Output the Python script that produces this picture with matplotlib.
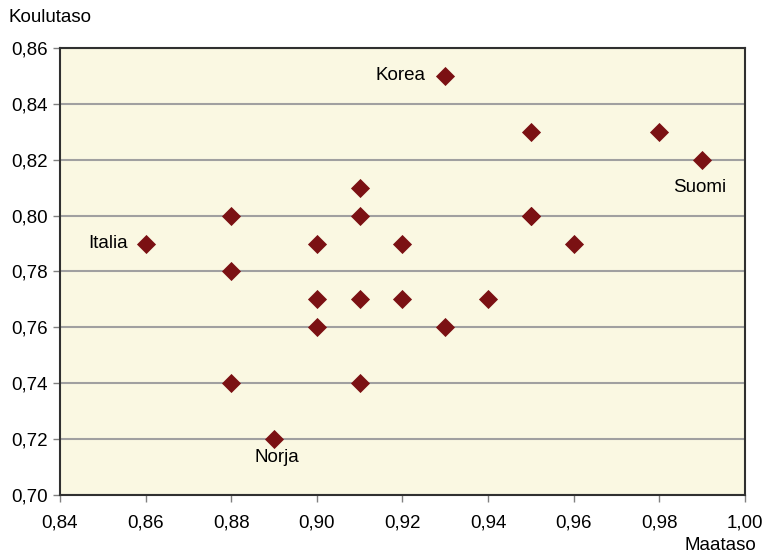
import matplotlib.pyplot as plt
from matplotlib.ticker import FuncFormatter

# maataso (x) ja koulutaso (y) maittain
maataso = [0.93, 0.95, 0.98, 0.99, 0.91, 0.88, 0.91, 0.95, 0.95, 0.86, 0.90,
           0.92, 0.96, 0.88, 0.90, 0.91, 0.92, 0.94, 0.90, 0.93, 0.88, 0.91, 0.89]
koulutaso = [0.85, 0.83, 0.83, 0.82, 0.81, 0.80, 0.80, 0.80, 0.80, 0.79, 0.79,
             0.79, 0.79, 0.78, 0.77, 0.77, 0.77, 0.77, 0.76, 0.76, 0.74, 0.74, 0.72]

# nimetyt maat: nimi, x, y
nimet = ["Korea", "Suomi", "Italia", "Norja"]
nimi_x = [0.93, 0.99, 0.86, 0.89]
nimi_y = [0.85, 0.82, 0.79, 0.72]

x_ticks = [0.84, 0.86, 0.88, 0.90, 0.92, 0.94, 0.96, 0.98, 1.00]
y_ticks = [0.70, 0.72, 0.74, 0.76, 0.78, 0.80, 0.82, 0.84, 0.86]

plt.rcParams['font.family'] = ['Liberation Sans', 'DejaVu Sans']

fig = plt.figure(figsize=(7.64, 5.56), dpi=100)
ax = fig.add_axes([0.0785, 0.1097, 0.8965, 0.804])
ax.set_facecolor('#FAF8E2')

ax.scatter(maataso, koulutaso, marker='D', s=95, color='#7B1113', zorder=3, linewidths=0)

ax.set_xlim(0.84, 1.00)
ax.set_ylim(0.70, 0.86)
ax.set_xticks(x_ticks)
ax.set_yticks(y_ticks)
fmt = FuncFormatter(lambda v, p: f"{v:.2f}".replace('.', ','))
ax.xaxis.set_major_formatter(fmt)
ax.yaxis.set_major_formatter(fmt)
ax.tick_params(axis='both', labelsize=13.5, length=5, width=1, color='#808080', direction='out')
ax.tick_params(axis='x', pad=9)

ax.yaxis.grid(True, color='#A0A0A0', linewidth=1.5)
ax.set_axisbelow(True)
for side in ['top', 'bottom', 'left', 'right']:
    ax.spines[side].set_color('#303030')
    ax.spines[side].set_linewidth(1.5)

# maiden nimet
offs = {"Korea": (-14, 0, 'right', 'center'),
        "Suomi": (-2, -14, 'center', 'top'),
        "Italia": (-13, 0, 'right', 'center'),
        "Norja": (2, -7, 'center', 'top')}
for n, x, y in zip(nimet, nimi_x, nimi_y):
    dx, dy, ha, va = offs[n]
    ax.annotate(n, (x, y), xytext=(dx, dy), textcoords='offset points',
                ha=ha, va=va, fontsize=13.5)

fig.text(0.011, 0.968, "Koulutaso", fontsize=13.5, ha='left', va='center')
fig.text(0.99, 0.018, "Maataso", fontsize=13.5, ha='right', va='center')

fig.savefig("out.png", dpi=100)
